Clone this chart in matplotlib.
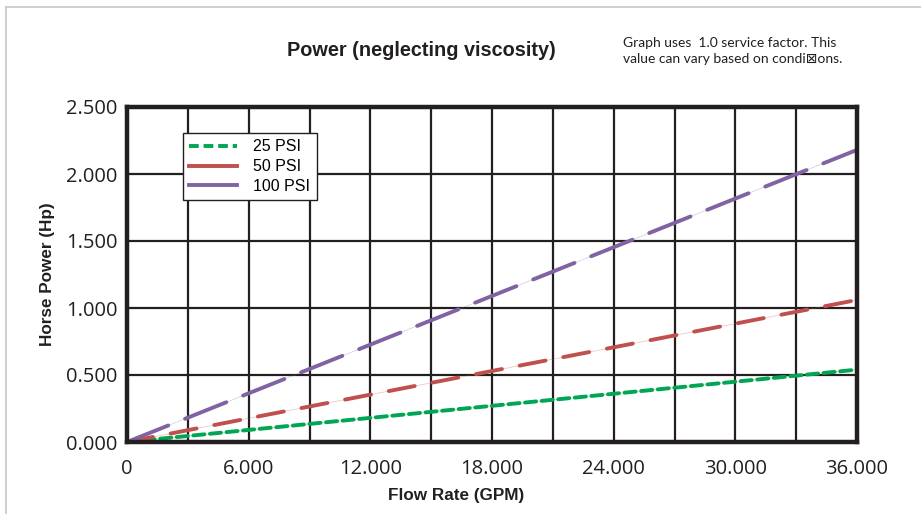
import numpy as np
import matplotlib
matplotlib.use("Agg")
import matplotlib.pyplot as plt
from matplotlib.lines import Line2D
from matplotlib.ticker import FixedLocator, FuncFormatter

plt.rcParams['lines.scale_dashes'] = False

# data
flow_gpm = [0, 36000]
hp_25psi = [0.0, 0.54]
hp_50psi = [0.0, 1.06]
hp_100psi = [0.0, 2.18]
series_labels = ['25 PSI', '50 PSI', '100 PSI']
x_major = [0, 6000, 12000, 18000, 24000, 30000, 36000]
x_grid = list(range(0, 36001, 3000))
y_major = [0.0, 0.5, 1.0, 1.5, 2.0, 2.5]

green = '#00a651'
red = '#c0504d'
purple = '#8064a2'
ink = '#231f20'

fig = plt.figure(figsize=(9.21, 5.14), dpi=100)
ax = fig.add_axes([127/921, 1-442/514, 730/921, 335/514])

# faint page border
fig.add_artist(Line2D([6/921, 6/921], [0, 1-7/514], color='#c8c8c8', lw=1.2))
fig.add_artist(Line2D([6/921, 1], [1-7/514, 1-7/514], color='#c8c8c8', lw=1.2))

series = [(hp_25psi, green, (8, 4)), (hp_50psi, red, (19, 13)),
          (hp_100psi, purple, (32, 13))]
for vals, col, dash in series:
    # thin pale line behind the dashes
    ax.plot(flow_gpm, vals, color=col, lw=0.6, alpha=0.3, zorder=3)
    ln, = ax.plot(flow_gpm, vals, color=col, lw=2.8, zorder=4,
                  solid_capstyle='butt', dash_capstyle='round')
    ln.set_dashes(dash)

ax.set_xlim(0, 36000)
ax.set_ylim(0, 2.5)
ax.xaxis.set_major_locator(FixedLocator(x_major))
ax.xaxis.set_minor_locator(FixedLocator(x_grid))
ax.yaxis.set_major_locator(FixedLocator(y_major))

def fmt_x(v, pos):
    if v == 0:
        return '0'
    return '{:,.0f}'.format(v).replace(',', '.')

ax.xaxis.set_major_formatter(FuncFormatter(fmt_x))
ax.yaxis.set_major_formatter(FuncFormatter(lambda v, p: '{:.3f}'.format(v)))
ax.tick_params(axis='both', which='both', length=0, labelsize=14.5,
               labelcolor=ink)
ax.tick_params(axis='x', pad=12)
ax.tick_params(axis='y', pad=7)
for lab in ax.get_xticklabels() + ax.get_yticklabels():
    lab.set_family('Open Sans')

ax.grid(True, which='both', axis='x', color=ink, lw=1.6)
ax.grid(True, which='major', axis='y', color=ink, lw=1.6)
ax.set_axisbelow(True)
for sp in ax.spines.values():
    sp.set_linewidth(3.2)
    sp.set_color(ink)
    sp.set_zorder(5)

ax.set_xlabel('Flow Rate (GPM)', fontsize=12.3, fontweight='bold',
              family='Liberation Sans', color=ink)
ax.xaxis.set_label_coords(329/730, -46/335)
ax.set_ylabel('Horse Power (Hp)', fontsize=12.3, fontweight='bold',
              family='Liberation Sans', color=ink, labelpad=8)

fig.text(421/921, 1-50/514, 'Power (neglecting viscosity)', ha='center',
         va='center', fontsize=14.3, fontweight='bold',
         family='Liberation Sans', color=ink)
fig.text(623/921, 1-51/514,
         'Graph uses  1.0 service factor. This\nvalue can vary based on condi\u22a0ons.',
         ha='left', va='center', fontsize=10, linespacing=1.4,
         family=['Lato', 'DejaVu Sans'], color=ink)

handles = [Line2D([], [], color=green, lw=2.8, dashes=(7, 3.5)),
           Line2D([], [], color=red, lw=2.8),
           Line2D([], [], color=purple, lw=2.8)]
leg = ax.legend(handles, series_labels, loc='upper left',
                bbox_to_anchor=(56/730, 1-26/335), fancybox=False,
                framealpha=1, edgecolor=ink,
                prop={'family': 'Liberation Sans', 'size': 11.5},
                handlelength=3.0, borderpad=0.4, labelspacing=0.3,
                handletextpad=1.0, borderaxespad=0)
leg.get_frame().set_linewidth(1.0)
leg.set_zorder(6)

fig.savefig('out.png', dpi=100)
